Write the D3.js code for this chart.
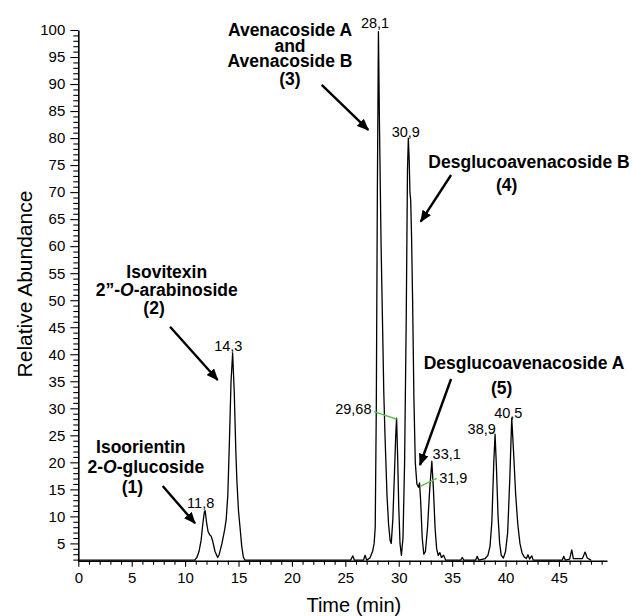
<!DOCTYPE html>
<html><head><meta charset="utf-8">
<script src="https://cdn.jsdelivr.net/npm/d3@7"></script>
<style>
body{margin:0;background:#fff}
svg{display:block}
text{font-family:"Liberation Sans",Arial,Helvetica,sans-serif;fill:#000}
</style>
</head><body>
<svg id="chart" width="632" height="616"></svg>
<script>
// ---------------- data ----------------
const traceTimes = [0,5,10,10.9,11.1,11.3,11.5,11.65,11.8,11.88,12.0,12.15,12.3,12.45,12.6,12.8,13.05,13.2,13.45,13.7,13.85,14.0,14.15,14.3,14.45,14.6,14.75,14.85,15.0,15.15,15.3,15.45,15.6,20,25.5,25.7,25.85,26.7,26.85,27.0,27.3,27.55,27.7,27.8,27.9,28.0,28.1,28.2,28.35,28.5,28.6,28.72,28.9,29.05,29.2,29.3,29.45,29.6,29.72,29.8,29.9,30.0,30.12,30.25,30.4,30.55,30.7,30.82,30.9,30.98,31.05,31.12,31.2,31.3,31.42,31.55,31.7,31.85,31.95,32.05,32.2,32.35,32.5,32.7,32.9,33.1,33.25,33.4,33.55,33.7,33.85,34.0,34.2,34.4,35.8,35.95,36.1,37.2,37.35,37.5,38.1,38.35,38.55,38.72,38.9,39.02,39.15,39.3,39.45,39.6,39.8,40.0,40.2,40.4,40.58,40.75,40.95,41.15,41.35,41.55,41.75,41.95,42.1,42.25,42.45,42.6,45.3,45.45,45.6,46.0,46.2,46.35,47.2,47.45,47.65,48.0];
const traceValues = [1.9,1.9,1.9,1.9,2.4,3.5,5.6,8.5,10.8,11.05,9.0,7.2,6.6,6.3,5.3,3.5,2.4,3.0,5.0,7.5,9.5,14,24,35,40.2,33,22,16.5,11,7.8,4.5,2.5,1.9,1.9,1.9,2.7,1.9,1.9,2.8,1.9,2.3,3.5,5.0,8,30,70,99.7,82,60,44,33,24.7,14,8.5,5.5,5.0,9.5,18,25,28.2,21,12,5,2.8,6,20,46,74,80,76,70,68.5,62,50,32,20,16,15.4,16.2,13,6,3,3.5,8,15,20.2,15,8,4,2.8,3.3,2.4,2.8,1.9,1.9,2.4,1.9,1.9,2.6,1.9,2.2,2.8,4.5,9,20,25.2,19,10,5,2.8,2.3,3.5,7,17,28.2,22,14,8.5,5,3.2,2.5,2.2,2.9,2.1,2.7,1.9,1.9,2.6,1.9,2.1,3.8,2.2,2.2,3.4,2.3,1.9];

const yMajorTicks = [5,10,15,20,25,30,35,40,45,50,55,60,65,70,75,80,85,90,95,100];
const xMajorTicks = [0,5,10,15,20,25,30,35,40,45];

const peakLabels = ["11,8","14,3","28,1","29,68","30,9","31,9","33,1","38,9","40,5"];
const peakTimes  = [11.8,14.3,28.1,29.68,30.9,31.9,33.1,38.9,40.5];

const compoundNames = [
  ["Isoorientin","2-*O*-glucoside","(1)"],
  ["Isovitexin","2\u201d-*O*-arabinoside","(2)"],
  ["Avenacoside A","and","Avenacoside B","(3)"],
  ["Desglucoavenacoside B","(4)"],
  ["Desglucoavenacoside A","(5)"]
];

const xLabel = "Time (min)";
const yLabel = "Relative Abundance";

// ---------------- layout (data coordinates) ----------------
const peakLabelPos = [[11.46,12.53],[14.04,41.59],[27.78,101.25],[25.75,29.82],[30.66,81.19],[35.11,17.23],[34.49,21.54],[37.77,26.30],[40.26,29.26]];
const leaderLines = [[[27.69,29.37],[29.81,27.97]],[[32.06,15.62],[33.56,17.05]],[[38.55,25.25],[38.97,25.7]]];
const nameLinePos = [
  [[5.85,22.84],[6.32,19.19],[5.07,15.44]],
  [[8.28,55.28],[8.28,51.89],[7.09,48.69]],
  [[19.82,100.0],[19.82,97.04],[19.82,94.27],[19.82,90.94]],
  [[42.2,75.63],[40.11,71.32]],
  [[41.73,38.44],[39.64,33.89]]
];
const arrows = [
  [[7.90,15.62],[10.93,8.72]],
  [[8.59,45.10],[13.05,35.24]],
  [[22.79,89.83],[27.15,81.50]],
  [[34.90,73.17],[32.06,64.53]],
  [[34.90,35.42],[31.99,19.51]]
];

// ---------------- drawing ----------------
const svg = d3.select("#chart");
const x = d3.scaleLinear().domain([0,49.5]).range([78.3,607]);
const y = d3.scaleLinear().domain([1.8,100]).range([560.7,30]);

const yMinor = d3.range(2,101).filter(v=>v%5!==0);
const xMinor = d3.range(0,50).filter(v=>v%5!==0);

const gy = svg.append("g").attr("transform",`translate(${x(0)},0)`);
gy.call(d3.axisLeft(y).tickValues(yMinor).tickSize(5).tickSizeOuter(0).tickFormat(""));
gy.call(g=>g.select(".domain").remove());
const gyM = svg.append("g").attr("transform",`translate(${x(0)},0)`);
gyM.call(d3.axisLeft(y).tickValues(yMajorTicks).tickSize(8).tickSizeOuter(0).tickPadding(5).tickFormat(d3.format("d")));

const gx = svg.append("g").attr("transform",`translate(0,${y(1.8)})`);
gx.call(d3.axisBottom(x).tickValues(xMinor).tickSize(4).tickSizeOuter(0).tickFormat(""));
gx.call(g=>g.select(".domain").remove());
const gxM = svg.append("g").attr("transform",`translate(0,${y(1.8)})`);
gxM.call(d3.axisBottom(x).tickValues(xMajorTicks).tickSize(6).tickSizeOuter(0).tickPadding(6).tickFormat(d3.format("d")));

svg.selectAll(".domain").attr("stroke","#000").attr("stroke-width",1.6);
svg.selectAll(".tick line").attr("stroke","#000").attr("stroke-width",1.1);
svg.selectAll(".tick text").attr("font-size",15).attr("font-family",'"Liberation Sans",Arial,sans-serif').attr("fill","#000");

// axis titles
svg.append("text").attr("x",x(25.8)).attr("y",612).attr("text-anchor","middle")
  .attr("font-size",20).text(xLabel);
svg.append("text").attr("transform",`translate(32,${y(53)}) rotate(-90)`)
  .attr("text-anchor","middle").attr("font-size",21).text(yLabel);

// trace
const line = d3.line().x(d=>x(d[0])).y(d=>y(d[1]));
svg.append("path").datum(d3.zip(traceTimes,traceValues))
  .attr("d",line).attr("fill","none").attr("stroke","#000").attr("stroke-width",1.3)
  .attr("stroke-linejoin","round");

// green leaders
svg.selectAll("line.leader").data(leaderLines).join("line").attr("class","leader")
  .attr("x1",d=>x(d[0][0])).attr("y1",d=>y(d[0][1]))
  .attr("x2",d=>x(d[1][0])).attr("y2",d=>y(d[1][1]))
  .attr("stroke","#5cc04a").attr("stroke-width",1.4);

// peak labels
svg.selectAll("text.peak").data(peakLabels).join("text").attr("class","peak")
  .attr("x",(d,i)=>x(peakLabelPos[i][0])).attr("y",(d,i)=>y(peakLabelPos[i][1]))
  .attr("dy","0.36em").attr("text-anchor","middle").attr("font-size",14.5).text(d=>d);

// compound names: one text element per block, one tspan group per line
compoundNames.forEach((lines,bi)=>{
  const t = svg.append("text").attr("text-anchor","middle").attr("font-size",17.5).attr("font-weight","bold");
  lines.forEach((ln,li)=>{
    const p = nameLinePos[bi][li];
    const segs = ln.split("*");
    segs.forEach((seg,si)=>{
      if(!seg.length) return;
      const ts = t.append("tspan").attr("font-style",si%2?"italic":"normal").text(seg);
      if(si===0){ ts.attr("x",x(p[0])).attr("y",y(p[1])+6.3); }
    });
  });
});

// arrows
svg.append("defs").append("marker").attr("id","ah").attr("markerUnits","userSpaceOnUse")
  .attr("markerWidth",12).attr("markerHeight",10).attr("refX",11).attr("refY",5)
  .attr("orient","auto").append("path").attr("d","M0,0 L12,5 L0,10 Z").attr("fill","#000");
svg.selectAll("line.arrow").data(arrows).join("line").attr("class","arrow")
  .attr("x1",d=>x(d[0][0])).attr("y1",d=>y(d[0][1]))
  .attr("x2",d=>x(d[1][0])).attr("y2",d=>y(d[1][1]))
  .attr("stroke","#000").attr("stroke-width",2.4).attr("marker-end","url(#ah)");
</script>
</body></html>
